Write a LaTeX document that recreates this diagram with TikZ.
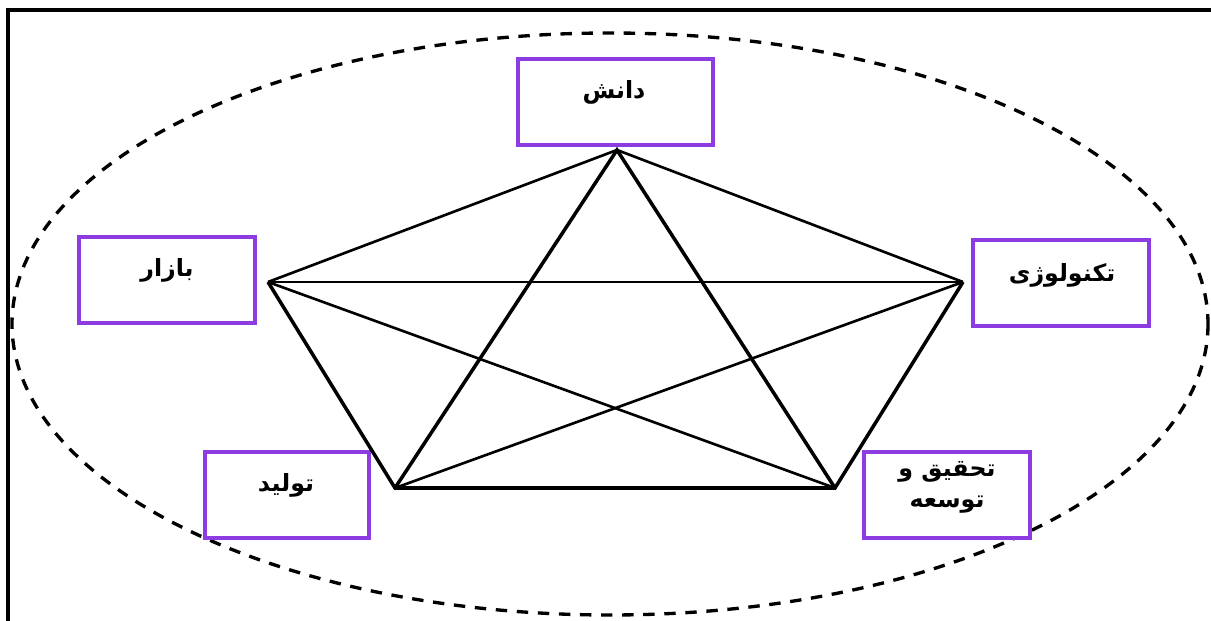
\documentclass[tikz,border=0pt]{standalone}
\usepackage{fontspec}
\newfontfamily\farsi[Script=Arabic]{DejaVu Sans}
\TeXXeTstate=1
\usetikzlibrary{shapes}
\definecolor{boxpurple}{RGB}{140,60,225}
\tikzset{
	mbox/.style={
		draw=boxpurple,fill=white,line width=2.1pt,minimum height=1.72cm},
	mtext/.style={font=\farsi\bfseries\fontsize{13.5}{17.5}\selectfont,align=center},
	thick edge/.style={line width=2pt},
	thin edge/.style={line width=1.5pt}
}
\newcommand{\rtl}[1]{\beginR #1\endR}

\begin{document}
\begin{tikzpicture}[x=0.02cm,y=-0.02cm]
			\useasboundingbox (0,0) rectangle (1211,621);
			\clip (0,0) rectangle (1211,621);
			% frame and dashed ellipse
			\draw[line width=1.9pt] (8,640) -- (8,10) -- (1230,10);
			\draw[line width=1.9pt,dash pattern=on 6.5pt off 5.5pt] (610,324) ellipse [x radius=598,y radius=291];
			% boxes
			\node[mbox,minimum width=3.9cm] (danesh) at (615.5,102) {};
			\node[mbox,minimum width=3.52cm] (bazar) at (167,280) {};
			\node[mbox,minimum width=3.52cm] (tech) at (1061,283) {};
			\node[mbox,minimum width=3.28cm] (tolid) at (287,495) {};
			\node[mbox,minimum width=3.32cm] (rnd) at (947,495) {};
			\node[mtext] (daneshtxt) at (614,92) {\rtl{دانش}};
			\node[mtext] (bazartxt) at (167,270) {\rtl{بازار}};
			\node[mtext] (techtxt) at (1062,275) {\rtl{تكنولوژی}};
			\node[mtext] (tolidtxt) at (286,485) {\rtl{تولید}};
			\node[mtext] (rndtxt) at (947,487) {\rtl{تحقیق و}\\\rtl{توسعه}};
			% pentagon corners
			\coordinate (p1) at (617,150);
			\coordinate (p2) at (963,282);
			\coordinate (p3) at (835,488);
			\coordinate (p4) at (395,488);
			\coordinate (p5) at (268,282);
			% sides and star
			\draw[thin edge] (p5) -- (p1) -- (p2);
			\draw[thin edge] (p5) -- (p2);
			\draw[thin edge] (p5) -- (p3);
			\draw[thin edge] (p2) -- (p4);
			\draw[thick edge,line join=miter] (p2) -- (p3) -- (p4) -- (p5);
			\draw[thick edge,line join=miter] (p4) -- (p1) -- (p3);
\end{tikzpicture}
\end{document}
